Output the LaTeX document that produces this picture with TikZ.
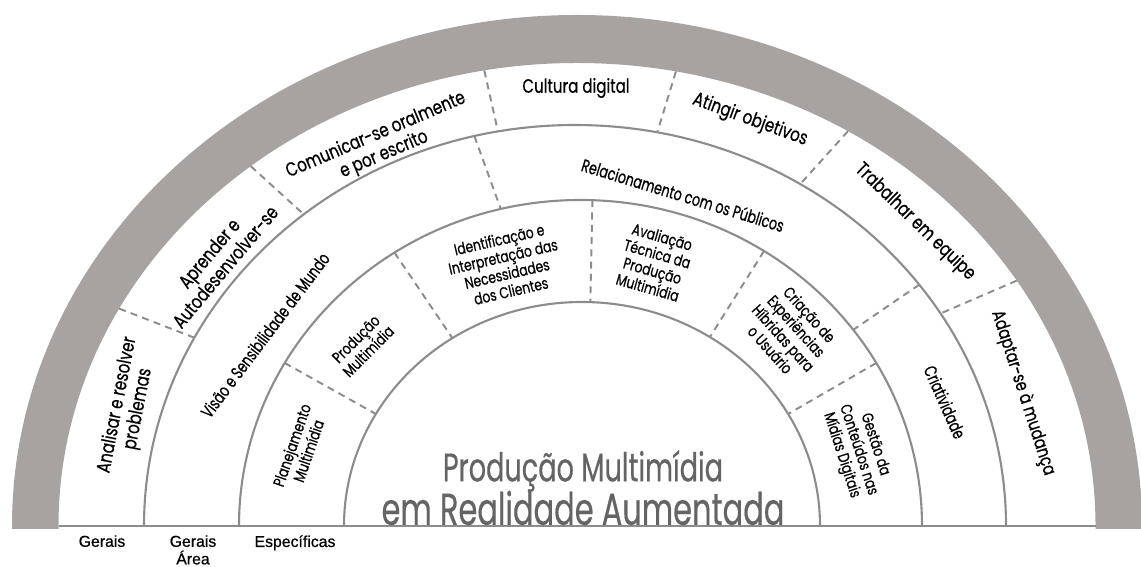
\documentclass[tikz,border=0pt]{standalone}
\usepackage{fontspec}
\setmainfont{Poppins}[FakeStretch=0.78, FakeBold=0.6]
\newfontfamily\midfont{Poppins}[FakeStretch=0.72, FakeBold=0.6]
\newfontfamily\titlefont{Poppins}[FakeStretch=0.68, FakeBold=0.4]
\newfontfamily\basefont{Liberation Sans}[FakeBold=0.8]
\usetikzlibrary{calc}
\definecolor{bandgray}{RGB}{167,163,161}
\definecolor{linegray}{RGB}{140,140,140}
\definecolor{titlegray}{RGB}{100,100,100}
\tikzset{
  ring/.style={draw=linegray, line width=1.2pt},
  divider/.style={draw=linegray, line width=1.1pt, dash pattern=on 4pt off 3pt},
  outerlabel/.style={font=\fontsize{11}{12}\selectfont, align=center, inner sep=0pt},
  midlabel/.style={font=\midfont\fontsize{10}{11}\selectfont, align=center, inner sep=0pt},
  innerlabel/.style={font=\fontsize{9}{10}\selectfont, align=center, inner sep=0pt},
  basetext/.style={font=\basefont\fontsize{9}{10}\selectfont, align=center, inner sep=0pt, anchor=north},
  titletext/.style={text=titlegray, inner sep=0pt}
}
\begin{document}
\begin{tikzpicture}[x=0.02cm,y=0.02cm]
\useasboundingbox (0,0) rectangle (1141,567);
% ring centres
\coordinate (c4) at (577,41);
\coordinate (c3) at (575,41);
\coordinate (c2) at (580.5,41);
\coordinate (c1) at (582,41);

% gray band
\fill[bandgray] (12,38) -- (12,41) arc[start angle=180,end angle=0,x radius=565,y radius=511]
  -- (1142,38) -- (1095.5,38) -- (1095.5,41)
  arc[start angle=0,end angle=180,x radius=518.5,y radius=463] -- (58.5,38) -- cycle;

% rings and base line
\draw[ring] (144,41) arc[start angle=180,end angle=0,x radius=431,y radius=401];
\draw[ring] (239,41) arc[start angle=180,end angle=0,x radius=341.5,y radius=326];
\draw[ring] (344,41) arc[start angle=180,end angle=0,x radius=238,y radius=224];
\draw[ring] (58.5,41) -- (1095.5,41);

% dividers
\foreach \a in {152,129,100.3,79,58.5,32}
  \draw[divider] ($(c4)+(\a:518.5 and 463)$) -- ($(c3)+(\a:431 and 401)$);
\foreach \a in {103.5,37}
  \draw[divider] ($(c3)+(\a:431 and 401)$) -- ($(c2)+(\a:341.5 and 326)$);
\foreach \a in {150,123,88,57.5,30}
  \draw[divider] ($(c2)+(\a:341.5 and 326)$) -- ($(c1)+(\a:238 and 224)$);

% outer band
\node[outerlabel, rotate=79] (analisar) at (128,160) {Analisar e resolver\\problemas};
\node[outerlabel, rotate=50] (aprender) at (217,307) {Aprender e\\Autodesenvolver-se};
\node[outerlabel, rotate=23] (comunicar) at (380,422) {Comunicar-se oralmente\\e por escrito};
\node[outerlabel] (cultura) at (576,479) {Cultura digital};
\node[outerlabel, rotate=-20] (atingir) at (750,447) {Atingir objetivos};
\node[outerlabel, rotate=-44] (trabalhar) at (915,345) {Trabalhar em equipe};
\node[outerlabel, rotate=-72, font=\fontsize{10.5}{12}\selectfont] (adaptar) at (1023,174) {Adaptar-se à mudança};

% middle band
\node[midlabel, rotate=53] (visao) at (265,232) {Visão e Sensibilidade de Mundo};
\node[midlabel, rotate=-17] (relacao) at (683,372) {Relacionamento com os Públicos};
\node[midlabel, rotate=-66] (criatividade) at (945,165) {Criatividade};

% inner band
\node[innerlabel, rotate=71] (planejamento) at (300,119) {Planejamento\\Multimídia};
\node[innerlabel, rotate=45] (producao) at (362,222) {Produção\\Multimídia};
\node[innerlabel, rotate=13] (identificacao) at (505,302) {Identificação e\\Interpretação das\\Necessidades\\dos Clientes};
\node[innerlabel, rotate=-16] (avaliacao) at (655,305) {Avaliação\\Técnica da\\Produção\\Multimídia};
\node[innerlabel, rotate=-48] (criacao) at (790,235) {Criação de\\Experiências\\Híbridas para\\o Usuário};
\node[innerlabel, rotate=-72] (gestao) at (858,117) {Gestão da\\Conteúdos nas\\Mídias Digitais};

% title
\node[titletext, font=\titlefont\fontsize{22.7}{24}\selectfont] (titleA) at (583,96) {Produção Multimídia};
\node[titletext, font=\titlefont\fontsize{25.5}{27}\selectfont] (titleB) at (583,59) {em Realidade Aumentada};

% levels
\node[basetext] (gerais) at (102,32) {Gerais};
\node[basetext] (geraisarea) at (193,32) {Gerais\\Área};
\node[basetext] (especificas) at (295,32) {Específicas};
\end{tikzpicture}
\end{document}
